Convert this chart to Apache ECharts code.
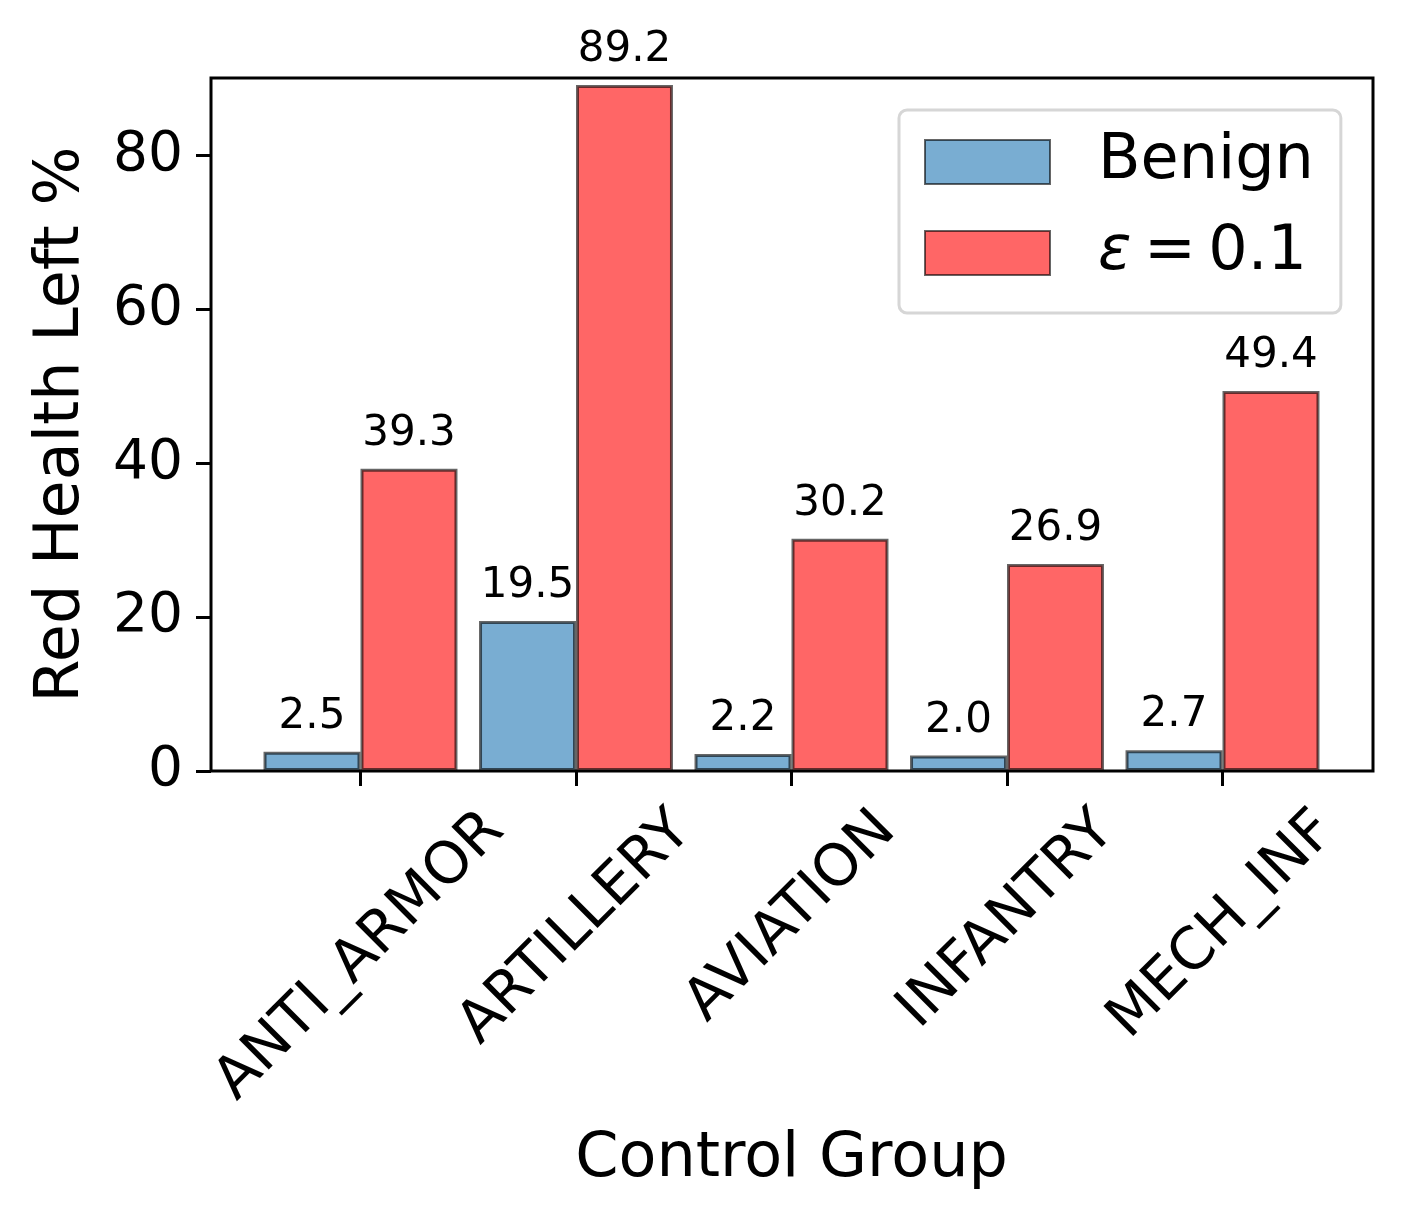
<!DOCTYPE html>
<html>
<head>
<meta charset="utf-8">
<script src="https://cdn.jsdelivr.net/npm/echarts@6/dist/echarts.min.js"></script>
<style>
html,body{margin:0;padding:0;background:#fff;}
#chart{width:1402px;height:1219px;}
</style>
</head>
<body>
<div id="chart"></div>
<script>
const categories = ['ANTI_ARMOR', 'ARTILLERY', 'AVIATION', 'INFANTRY', 'MECH_INF'];
const benign = [2.5, 19.5, 2.2, 2.0, 2.7];
const eps01 = [39.3, 89.2, 30.2, 26.9, 49.4];
const yTicks = [0, 20, 40, 60, 80];
const seriesNames = ['Benign', 'ε = 0.1'];

const FONT = '"DejaVu Sans", sans-serif';
const yTickFont = 55;
const xTickFont = 58;
const labelLH = 67;
const nameFont = 62;
const yMax = 90.1;

const ctx = document.createElement('canvas').getContext('2d');
ctx.font = xTickFont + 'px "DejaVu Sans"';
const rich = {};
categories.forEach((c, i) => {
  const w = ctx.measureText(c).width;
  const p = (w + labelLH) / 2;
  rich['c' + i] = {fontSize: xTickFont, fontFamily: FONT, color: '#000', lineHeight: labelLH, padding: [p, p, 0, 0]};
});

const chart = echarts.init(document.getElementById('chart'), null, {renderer: 'canvas'});
const frame = {left: 211, top: 78, width: 1162, height: 693};
const band = 215.5;
const barGrid = {left: 360.5 - band / 2, top: 78, width: band * 5, height: 693};

const option = {
  backgroundColor: '#fff',
  animation: false,
  textStyle: {fontFamily: FONT},
  grid: [
    Object.assign({show: true, borderColor: '#000', borderWidth: 3, backgroundColor: 'transparent',
      containLabel: false, outerBoundsMode: 'none'}, frame),
    Object.assign({containLabel: false, outerBoundsMode: 'none'}, barGrid)
  ],
  legend: {
    orient: 'vertical',
    left: 899, top: 110,
    padding: [21, 27, 29, 25],
    itemWidth: 125, itemHeight: 44, itemGap: 29,
    icon: 'rect',
    backgroundColor: '#fff',
    borderColor: '#d6d6d6', borderWidth: 3, borderRadius: 8,
    data: seriesNames,
    formatter: n => n === seriesNames[1] ? '{e|ε}{t|\u2009=\u20090.1}' : '{t|' + n + '}',
    textStyle: {
      fontSize: 62, color: '#000', fontFamily: FONT, padding: [0, 0, 0, 43],
      rich: {
        e: {fontSize: 62, fontStyle: 'italic', fontFamily: FONT, color: '#000'},
        t: {fontSize: 62, fontFamily: FONT, color: '#000'}
      }
    }
  },
  xAxis: [
    {gridIndex: 0, type: 'value', min: 0, max: 1, show: false},
    {
      gridIndex: 1, type: 'category', data: categories,
      axisLine: {show: false},
      axisTick: {show: true, alignWithLabel: true, length: 15, lineStyle: {color: '#000', width: 3}},
      axisLabel: {
        interval: 0, rotate: 45, align: 'center', verticalAlign: 'middle', margin: 27,
        formatter: (v, i) => '{c' + i + '|' + v + '}',
        rich: rich
      },
      name: 'Control Group', nameLocation: 'middle', nameGap: 358,
      nameTextStyle: {fontSize: nameFont, color: '#000', fontFamily: FONT}
    }
  ],
  yAxis: [
    {
      gridIndex: 0, type: 'value', min: 0, max: yMax, interval: 20,
      splitLine: {show: false},
      axisLine: {show: false},
      axisTick: {show: true, length: 15, customValues: yTicks, lineStyle: {color: '#000', width: 3}},
      axisLabel: {fontSize: yTickFont, color: '#000', margin: 28, fontFamily: FONT, customValues: yTicks},
      name: 'Red Health Left %', nameLocation: 'middle', nameGap: 118,
      nameTextStyle: {fontSize: nameFont, color: '#000', fontFamily: FONT}
    },
    {gridIndex: 1, type: 'value', min: 0, max: yMax, show: false}
  ],
  series: [
    {
      name: seriesNames[0], type: 'bar', xAxisIndex: 1, yAxisIndex: 1, data: benign,
      barGap: '0%', barCategoryGap: '10%',
      itemStyle: {color: '#79ADD2', borderColor: 'rgba(0,0,0,0.6)', borderWidth: 3},
      label: {show: true, position: 'top', distance: 14, fontSize: 42, color: '#000', fontFamily: FONT,
        formatter: p => p.value.toFixed(1)}
    },
    {
      name: seriesNames[1], type: 'bar', xAxisIndex: 1, yAxisIndex: 1, data: eps01,
      barGap: '0%', barCategoryGap: '10%',
      itemStyle: {color: '#FF6666', borderColor: 'rgba(0,0,0,0.6)', borderWidth: 3},
      label: {show: true, position: 'top', distance: 14, fontSize: 42, color: '#000', fontFamily: FONT,
        formatter: p => p.value.toFixed(1)}
    }
  ]
};
chart.setOption(option);
</script>
</body>
</html>
